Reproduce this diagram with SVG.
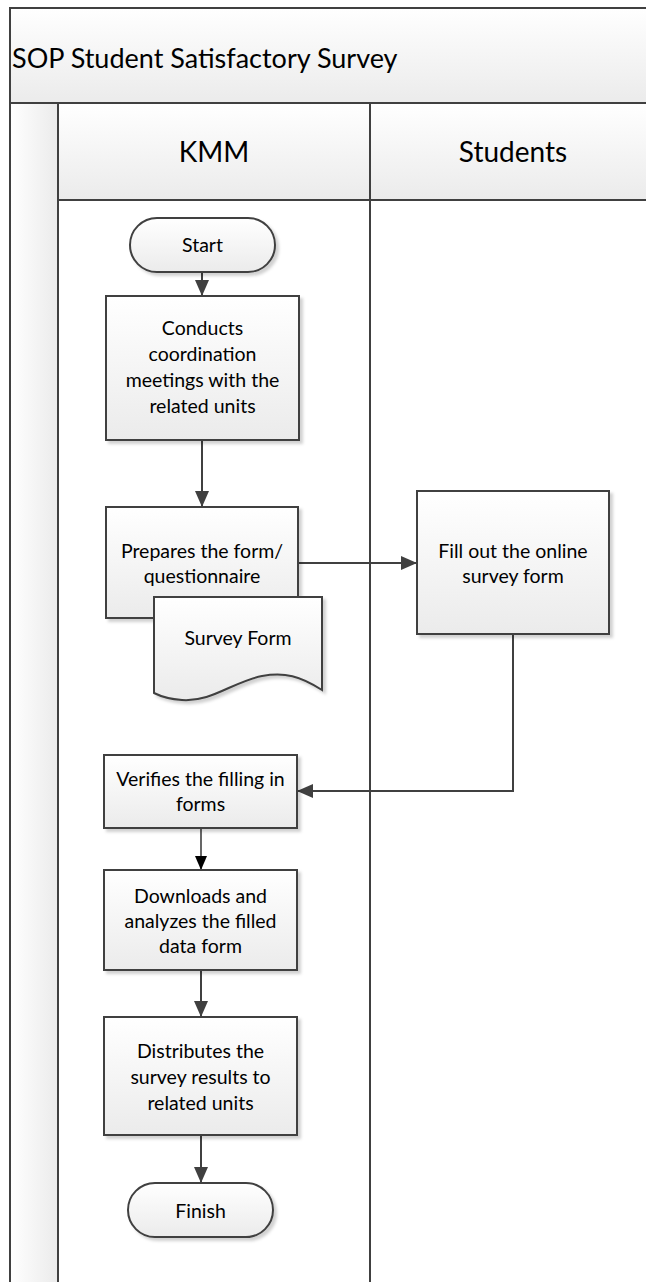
<svg xmlns="http://www.w3.org/2000/svg" width="646" height="1282" viewBox="0 0 646 1282">
  <style>
    .frame { stroke: #404040; stroke-width: 2; }
    .shape { stroke: #404040; stroke-width: 2; fill: url(#gradV); filter: url(#shadow); }
    .txt { font-family: Lato, "Liberation Sans", sans-serif; font-size: 19.5px; fill: #000; text-anchor: middle; }
    .hdr { font-family: Lato, "Liberation Sans", sans-serif; font-size: 28px; fill: #000; text-anchor: middle; }
    .conn { stroke: #404040; stroke-width: 2; fill: none; }
    .connThin { stroke: #000; stroke-width: 1.2; fill: none; }
  </style>
  <defs>
    <linearGradient id="gradV" x1="0" y1="0" x2="0" y2="1">
      <stop offset="0" stop-color="#ffffff"/>
      <stop offset="1" stop-color="#ebebeb"/>
    </linearGradient>
    <linearGradient id="gradH" x1="0" y1="0" x2="1" y2="0">
      <stop offset="0" stop-color="#ffffff"/>
      <stop offset="1" stop-color="#ebebeb"/>
    </linearGradient>
    <filter id="shadow" x="-10%" y="-10%" width="130%" height="130%">
      <feDropShadow dx="3" dy="3" stdDeviation="1.5" flood-color="#000" flood-opacity="0.18"/>
    </filter>
    <marker id="arrow" viewBox="0 0 16 14" refX="16" refY="7" markerWidth="16" markerHeight="14" markerUnits="userSpaceOnUse" orient="auto">
      <path d="M0,0 L16,7 L0,14 z" fill="#404040"/>
    </marker>
    <marker id="arrowThin" viewBox="0 0 14 12" refX="14" refY="6" markerWidth="14" markerHeight="12" markerUnits="userSpaceOnUse" orient="auto">
      <path d="M0,0 L14,6 L0,12 z" fill="#000"/>
    </marker>
  </defs>

  <rect width="646" height="1282" fill="#ffffff"/>

  <g id="pool">
    <rect x="10" y="8" width="660" height="95" fill="url(#gradV)" class="frame"/>
    <text x="12" y="68" font-family="Lato, 'Liberation Sans', sans-serif" font-size="27" fill="#000">SOP Student Satisfactory Survey</text>
    <rect x="10" y="103" width="48" height="1200" fill="url(#gradH)" class="frame"/>
  </g>

  <g id="lane-kmm">
    <rect x="58" y="103" width="312" height="97" fill="url(#gradV)" class="frame"/>
    <text class="hdr" x="214" y="162">KMM</text>
    <rect x="58" y="200" width="312" height="1100" fill="#ffffff" class="frame"/>
  </g>

  <g id="lane-students">
    <rect x="370" y="103" width="300" height="97" fill="url(#gradV)" class="frame"/>
    <text class="hdr" x="513" y="162">Students</text>
    <rect x="370" y="200" width="300" height="1100" fill="#ffffff" class="frame"/>
  </g>

  <g id="connectors">
    <path class="conn" d="M202,272 V296" marker-end="url(#arrow)"/>
    <path class="conn" d="M202,440 V507" marker-end="url(#arrow)"/>
    <path class="conn" d="M298,563 H417" marker-end="url(#arrow)"/>
    <path class="conn" d="M513,634 V791 H297" marker-end="url(#arrow)"/>
    <path class="connThin" d="M201,828 V870" marker-end="url(#arrowThin)"/>
    <path class="conn" d="M201,970 V1017" marker-end="url(#arrow)"/>
    <path class="conn" d="M201,1135 V1183" marker-end="url(#arrow)"/>
  </g>

  <g id="start">
    <rect class="shape" x="130" y="218" width="145" height="54" rx="27" ry="27"/>
    <text class="txt" x="202.5" y="252">Start</text>
  </g>

  <g id="conducts">
    <rect class="shape" x="106" y="296" width="193" height="144"/>
    <text class="txt" x="202.5" y="335">Conducts</text>
    <text class="txt" x="202.5" y="361">coordination</text>
    <text class="txt" x="202.5" y="387">meetings with the</text>
    <text class="txt" x="202.5" y="413">related units</text>
  </g>

  <g id="prepares">
    <rect class="shape" x="106" y="507" width="192" height="111"/>
    <text class="txt" x="202" y="558">Prepares the form/</text>
    <text class="txt" x="202" y="583">questionnaire</text>
  </g>

  <g id="survey-form">
    <path class="shape" d="M154,597 H322 V690 C300,676 285,672 262,676 C232,682 212,702 182,700 C168,699 160,696 154,693 Z"/>
    <text class="txt" x="238" y="645">Survey Form</text>
  </g>

  <g id="fill-out">
    <rect class="shape" x="417" y="491" width="192" height="143"/>
    <text class="txt" x="513" y="558">Fill out the online</text>
    <text class="txt" x="513" y="583">survey form</text>
  </g>

  <g id="verifies">
    <rect class="shape" x="104" y="755" width="193" height="73"/>
    <text class="txt" x="200.5" y="786">Verifies the filling in</text>
    <text class="txt" x="200.5" y="811">forms</text>
  </g>

  <g id="downloads">
    <rect class="shape" x="104" y="870" width="193" height="100"/>
    <text class="txt" x="200.5" y="903">Downloads and</text>
    <text class="txt" x="200.5" y="928">analyzes the filled</text>
    <text class="txt" x="200.5" y="953">data form</text>
  </g>

  <g id="distributes">
    <rect class="shape" x="104" y="1017" width="193" height="118"/>
    <text class="txt" x="200.5" y="1058">Distributes the</text>
    <text class="txt" x="200.5" y="1084">survey results to</text>
    <text class="txt" x="200.5" y="1110">related units</text>
  </g>

  <g id="finish">
    <rect class="shape" x="128" y="1183" width="145" height="54" rx="27" ry="27"/>
    <text class="txt" x="200.5" y="1218">Finish</text>
  </g>
</svg>
